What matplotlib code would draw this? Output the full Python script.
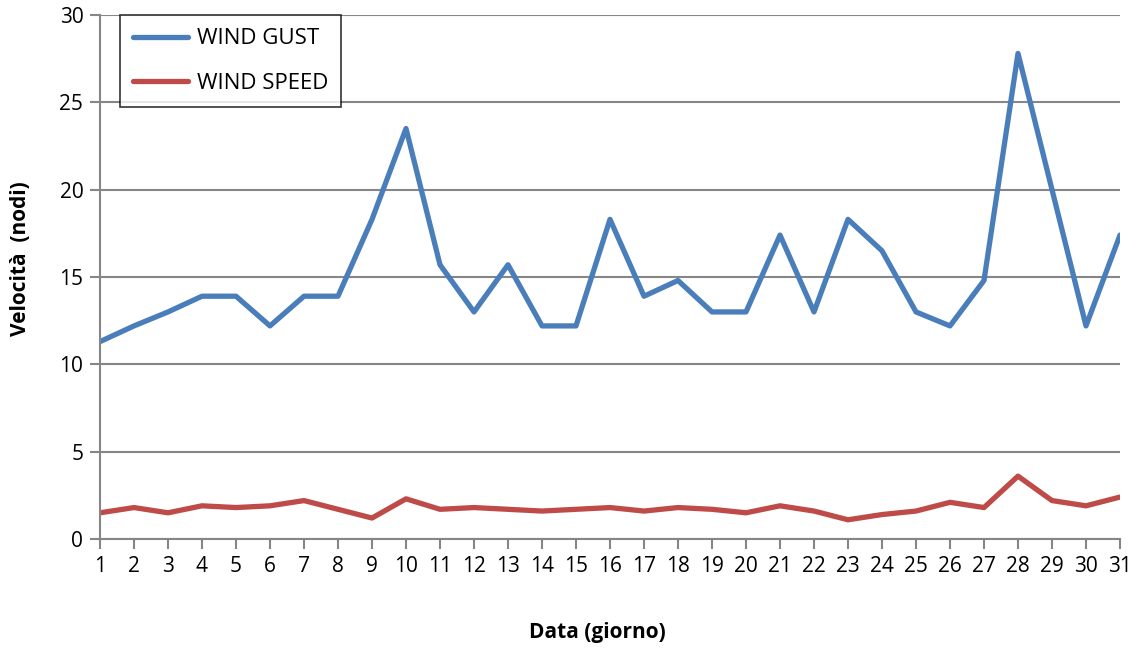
import matplotlib
matplotlib.use("Agg")
import matplotlib.pyplot as plt

days = list(range(1, 32))
wind_gust = [11.3, 12.2, 13.0, 13.9, 13.9, 12.2, 13.9, 13.9, 18.3, 23.5,
             15.7, 13.0, 15.7, 12.2, 12.2, 18.3, 13.9, 14.8, 13.0, 13.0,
             17.4, 13.0, 18.3, 16.5, 13.0, 12.2, 14.8, 27.8, 20.0, 12.2, 17.4]
wind_speed = [1.5, 1.8, 1.5, 1.9, 1.8, 1.9, 2.2, 1.7, 1.2, 2.3,
              1.7, 1.8, 1.7, 1.6, 1.7, 1.8, 1.6, 1.8, 1.7, 1.5,
              1.9, 1.6, 1.1, 1.4, 1.6, 2.1, 1.8, 3.6, 2.2, 1.9, 2.4]
yticks = [0, 5, 10, 15, 20, 25, 30]

plt.rcParams['font.family'] = ['Open Sans', 'DejaVu Sans']

fig = plt.figure(figsize=(11.38, 6.54), dpi=100)
ax = fig.add_axes([100/1138, 1-539/654, (1120-100)/1138, (539-15)/654])

grid_c = '#868686'
ax.plot(days, wind_gust, color='#4A7EBB', lw=3.8, label='WIND GUST', solid_joinstyle='round', solid_capstyle='round')
ax.plot(days, wind_speed, color='#BE4B48', lw=3.8, label='WIND SPEED', solid_joinstyle='round', solid_capstyle='round')

ax.set_xlim(1, 31)
ax.set_ylim(0, 30)
ax.set_yticks(yticks)
ax.set_xticks(days)
ax.yaxis.grid(True, color=grid_c, lw=1.5)
ax.set_axisbelow(True)
for s in ['top', 'right']:
    ax.spines[s].set_visible(False)
for s in ['left', 'bottom']:
    ax.spines[s].set_color(grid_c)
    ax.spines[s].set_linewidth(1.5)
ax.tick_params(axis='both', direction='out', color=grid_c, width=1.5, length=7, labelsize=15, pad=5)

ax.set_xlabel('Data (giorno)', fontsize=15, fontweight='bold', va='center')
ax.xaxis.set_label_coords(0.488, -0.179)
ax.set_ylabel('Velocità  (nodi)', fontsize=15, fontweight='bold', va='center')
ax.yaxis.set_label_coords(-0.078, 0.535)

leg = ax.legend(loc='upper left', bbox_to_anchor=(20/1020, 1.0), fontsize=16,
                frameon=True, fancybox=False, edgecolor='black', handlelength=2.45,
                borderpad=0.6, labelspacing=1.05, handletextpad=0.4, borderaxespad=0)
leg.get_frame().set_linewidth(1.2)

fig.savefig('out.png', dpi=100)
